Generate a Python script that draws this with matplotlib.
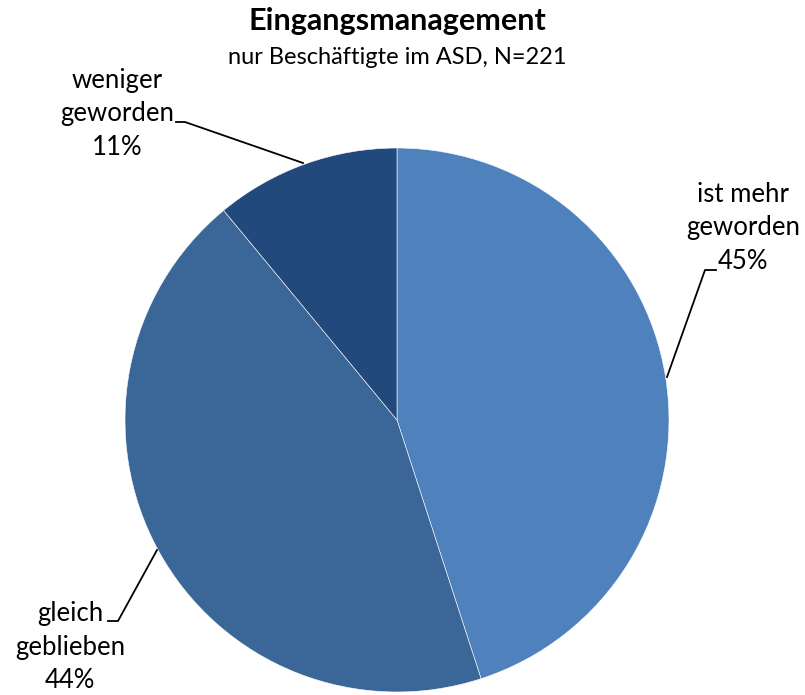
import matplotlib
matplotlib.use("Agg")
import matplotlib.pyplot as plt

plt.rcParams["font.family"] = ["Lato", "DejaVu Sans"]

categories = ["ist mehr\ngeworden", "gleich\ngeblieben", "weniger\ngeworden"]
shares = [45, 44, 11]
colors = ["#4F81BD", "#3B6698", "#21497C"]

W, H = 805, 695
fig = plt.figure(figsize=(W / 100, H / 100), dpi=100)
ax = fig.add_axes([0, 0, 1, 1])

cx, cy, r = 397, H - 420, 272
wedges, _ = ax.pie(shares, colors=colors, startangle=90, counterclock=False,
                   center=(cx, cy), radius=r, frame=True,
                   wedgeprops=dict(edgecolor="white", linewidth=0.4))
ax.set_xlim(0, W)
ax.set_ylim(0, H)
ax.set_aspect("equal")
ax.axis("off")

# label text position (centre of block), leader line: pie edge -> elbow -> end
label_pos = [(743, H - 228), (70, H - 647), (117, H - 114)]
leaders = [
    [(667, H - 377), (705, H - 270), (716, H - 270)],
    [(157, H - 550), (118, H - 621), (108, H - 621)],
    [(303, H - 163), (185, H - 122), (176, H - 122)],
]

for cat, val, (tx, ty), pts in zip(categories, shares, label_pos, leaders):
    ax.text(tx, ty, f"{cat}\n{val}%", ha="center", va="center",
            fontsize=18.5, linespacing=1.42, color="black")
    xs, ys = zip(*pts)
    ax.plot(xs, ys, color="black", linewidth=1.3)

ax.text(397, H - 21, "Eingangsmanagement", ha="center", va="center",
        fontsize=22, fontweight="bold")
ax.text(397, H - 58, "nur Beschäftigte im ASD, N=221", ha="center",
        va="center", fontsize=17)

fig.savefig("out.png", dpi=100)
